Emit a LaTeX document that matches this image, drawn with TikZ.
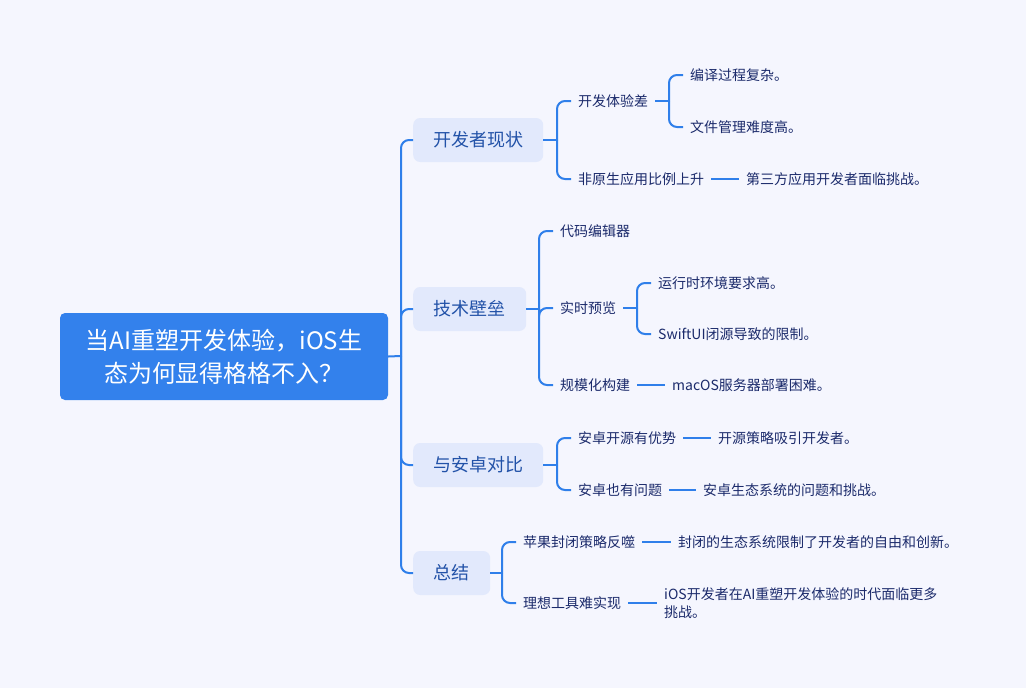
\documentclass[tikz,border=0pt]{standalone}
\usepackage{fontspec}
\setmainfont{Noto Sans CJK SC}
\definecolor{bg}{HTML}{F5F6FE}
\definecolor{ln}{HTML}{2F7FEA}
\definecolor{rootc}{HTML}{3381EC}
\definecolor{catf}{HTML}{E2E9FC}
\definecolor{catt}{HTML}{2252A8}
\definecolor{leaft}{HTML}{1B2A6B}
\tikzset{
 conn/.style={draw=ln, line width=2pt, rounded corners=8pt},
 rootbox/.style={fill=rootc, text=white, rounded corners=5pt, minimum width=328pt, minimum height=87pt, align=center, font=\fontsize{24}{33}\selectfont, inner sep=0pt},
 catbox/.style={fill=catf, text=catt, rounded corners=7pt, minimum height=44pt, inner xsep=0pt, anchor=west, font=\fontsize{18}{22}\selectfont},
 leaf/.style={text=leaft, anchor=west, inner xsep=7pt, inner ysep=1pt, font=\fontsize{14}{18}\selectfont, align=left},
}
\begin{document}
\begin{tikzpicture}[x=1pt,y=-1pt]
\fill[bg] (0,0) rectangle (1026,688);
\useasboundingbox (0,0) rectangle (1026,688);
% root
\node[rootbox] (r) at (224,356.5) {当AI重塑开发体验，iOS生\\态为何显得格格不入？};
% categories
\node[catbox, minimum width=130pt] (c1) at (413,140) {开发者现状};
\node[catbox, minimum width=113pt] (c2) at (413,309) {技术壁垒};
\node[catbox, minimum width=130pt] (c3) at (413,465) {与安卓对比};
\node[catbox, minimum width=77pt] (c4) at (413,573) {总结};
% leaves
\node[leaf] (a1) at (571,101) {开发体验差};
\node[leaf] (a2) at (571,179) {非原生应用比例上升};
\node[leaf] (a11) at (683,75) {编译过程复杂。};
\node[leaf] (a12) at (683,127) {文件管理难度高。};
\node[leaf] (a21) at (739,179) {第三方应用开发者面临挑战。};
\node[leaf] (b1) at (553,231) {代码编辑器};
\node[leaf] (b2) at (553,308) {实时预览};
\node[leaf] (b3) at (553,385) {规模化构建};
\node[leaf] (b21) at (651,283) {运行时环境要求高。};
\node[leaf] (b22) at (651,334) {SwiftUI闭源导致的限制。};
\node[leaf] (b31) at (665,385) {macOS服务器部署困难。};
\node[leaf] (d1) at (571,438) {安卓开源有优势};
\node[leaf] (d2) at (571,490) {安卓也有问题};
\node[leaf] (d11) at (711,438) {开源策略吸引开发者。};
\node[leaf] (d21) at (696,490) {安卓生态系统的问题和挑战。};
\node[leaf] (e1) at (516,542) {苹果封闭策略反噬};
\node[leaf] (e2) at (516,603) {理想工具难实现};
\node[leaf] (e11) at (671,542) {封闭的生态系统限制了开发者的自由和创新。};
\node[leaf] (e21) at (657,603) {iOS开发者在AI重塑开发体验的时代面临更多\\挑战。};
% junctions
\coordinate (j0) at (401,356);
\coordinate (jc1) at (557,140);
\coordinate (ja1) at (669,101);
\coordinate (jc2) at (539,309);
\coordinate (jb2) at (637,308);
\coordinate (jc3) at (557,465);
\coordinate (jc4) at (502,573);
% trunk
\draw[conn] (r.east) -- (j0);
\foreach \c in {c1,c2,c3,c4} \draw[conn] (j0) |- (\c.west);
% c1
\draw[conn] (c1.east) -- (jc1);
\foreach \c in {a1,a2} \draw[conn] (jc1) |- (\c.west);
\draw[conn] (a1.east) -- (ja1);
\foreach \c in {a11,a12} \draw[conn] (ja1) |- (\c.west);
\draw[conn] (a2.east) -- (a21.west);
% c2
\draw[conn] (c2.east) -- (jc2);
\foreach \c in {b1,b2,b3} \draw[conn] (jc2) |- (\c.west);
\draw[conn] (b2.east) -- (jb2);
\foreach \c in {b21,b22} \draw[conn] (jb2) |- (\c.west);
\draw[conn] (b3.east) -- (b31.west);
% c3
\draw[conn] (c3.east) -- (jc3);
\foreach \c in {d1,d2} \draw[conn] (jc3) |- (\c.west);
\draw[conn] (d1.east) -- (d11.west);
\draw[conn] (d2.east) -- (d21.west);
% c4
\draw[conn] (c4.east) -- (jc4);
\foreach \c in {e1,e2} \draw[conn] (jc4) |- (\c.west);
\draw[conn] (e1.east) -- (e11.west);
\draw[conn] (e2.east) -- (e21.west);
\end{tikzpicture}
\end{document}
